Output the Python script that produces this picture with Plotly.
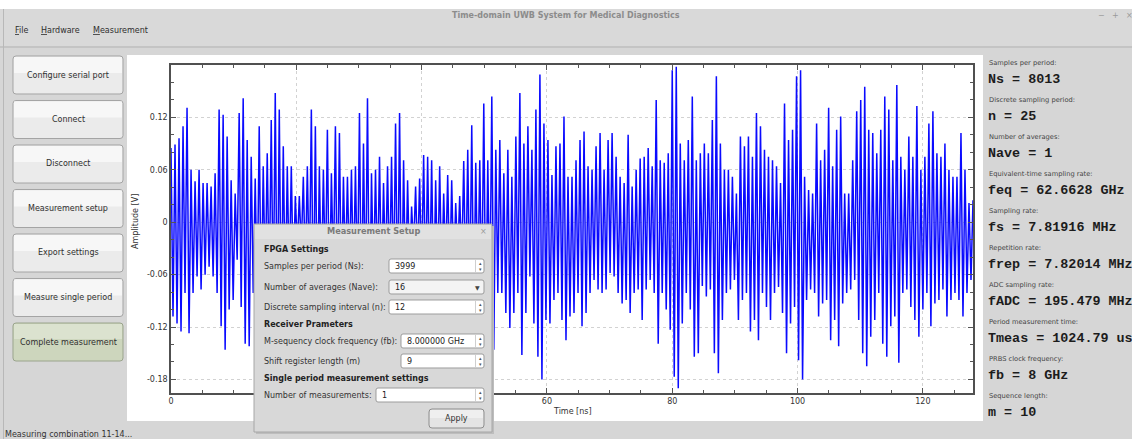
import plotly.graph_objects as go

# ---------------- data ----------------
step_ns = 0.64  # spacing of successive positive peaks [ns]

peak_max = [
    0.085, 0.089, 0.096, 0.110, 0.131, 0.060, 0.047, 0.060, 0.045, 0.045,
    0.041, 0.056, 0.129, 0.123, 0.098, 0.048, 0.033, 0.125, 0.142, 0.094,
    0.075, 0.050, 0.110, 0.064, 0.079, 0.117, 0.148, 0.129, 0.087, 0.064,
    0.064, 0.030, 0.030, 0.052, 0.064, 0.129, 0.110, 0.064, 0.060, 0.106,
    0.056, 0.110, 0.102, 0.052, 0.052, 0.060, 0.064, 0.125, 0.090, 0.142,
    0.056, 0.060, 0.075, 0.045, 0.064, 0.075, 0.113, 0.125, 0.071, 0.048,
    0.018, 0.041, 0.050, 0.077, 0.075, 0.071, 0.048, 0.064, 0.033, 0.054,
    0.048, 0.022, 0.030, 0.070, 0.083, 0.111, 0.068, 0.071, 0.136, 0.071,
    0.144, 0.083, 0.094, 0.056, 0.083, 0.052, 0.098, 0.148, 0.090, 0.110,
    0.083, 0.129, 0.169, 0.113, 0.094, 0.054, 0.087, 0.090, 0.121, 0.052,
    0.052, 0.071, 0.094, 0.104, 0.064, 0.060, 0.087, 0.102, 0.060, 0.094,
    0.102, 0.075, 0.052, 0.045, 0.100, 0.041, 0.060, 0.073, 0.075, 0.085,
    0.064, 0.140, 0.071, 0.068, 0.079, 0.174, 0.178, 0.090, 0.071, 0.094,
    0.144, 0.071, 0.079, 0.090, 0.079, 0.117, 0.167, 0.090, 0.060, 0.060,
    0.052, 0.033, 0.098, 0.087, 0.098, 0.075, 0.125, 0.110, 0.083, 0.075,
    0.071, 0.064, 0.045, 0.136, 0.094, 0.106, 0.167, 0.174, 0.052, 0.037,
    0.033, 0.113, 0.071, 0.083, 0.131, 0.064, 0.106, 0.121, 0.033, 0.033,
    0.071, 0.127, 0.140, 0.155, 0.106, 0.102, 0.079, 0.106, 0.144, 0.129,
    0.071, 0.157, 0.075, 0.060, 0.098, 0.075, 0.133, 0.060, 0.075, 0.113,
    0.127, 0.079, 0.075, 0.090, 0.060, 0.052, 0.052, 0.102, 0.060, 0.022,
    0.025,
]

peak_min = [
    -0.108, -0.116, -0.125, -0.081, -0.127, -0.081, -0.062, -0.077, -0.060, -0.051,
    -0.062, -0.081, -0.119, -0.146, -0.100, -0.089, -0.043, -0.097, -0.139, -0.142,
    -0.081, -0.090, -0.100, -0.070, -0.080, -0.100, -0.130, -0.120, -0.090, -0.070,
    -0.070, -0.030, -0.030, -0.060, -0.070, -0.120, -0.110, -0.080, -0.070, -0.100,
    -0.060, -0.100, -0.090, -0.060, -0.060, -0.070, -0.080, -0.120, -0.100, -0.130,
    -0.070, -0.070, -0.080, -0.060, -0.070, -0.080, -0.100, -0.120, -0.080, -0.060,
    -0.030, -0.050, -0.060, -0.080, -0.080, -0.090, -0.070, -0.070, -0.050, -0.070,
    -0.060, -0.040, -0.050, -0.080, -0.090, -0.110, -0.080, -0.090, -0.120, -0.100,
    -0.146, -0.081, -0.081, -0.104, -0.121, -0.104, -0.081, -0.152, -0.104, -0.062,
    -0.116, -0.154, -0.180, -0.112, -0.116, -0.089, -0.081, -0.112, -0.135, -0.108,
    -0.104, -0.081, -0.119, -0.104, -0.081, -0.066, -0.077, -0.081, -0.077, -0.058,
    -0.062, -0.081, -0.093, -0.089, -0.104, -0.081, -0.077, -0.112, -0.077, -0.066,
    -0.081, -0.139, -0.081, -0.100, -0.123, -0.177, -0.190, -0.116, -0.081, -0.100,
    -0.154, -0.150, -0.073, -0.085, -0.077, -0.150, -0.173, -0.112, -0.081, -0.077,
    -0.066, -0.112, -0.089, -0.081, -0.125, -0.112, -0.135, -0.081, -0.097, -0.112,
    -0.081, -0.074, -0.104, -0.150, -0.116, -0.097, -0.158, -0.180, -0.089, -0.077,
    -0.081, -0.108, -0.093, -0.089, -0.135, -0.112, -0.142, -0.093, -0.081, -0.077,
    -0.066, -0.112, -0.150, -0.165, -0.131, -0.112, -0.081, -0.139, -0.154, -0.119,
    -0.108, -0.161, -0.081, -0.077, -0.097, -0.112, -0.131, -0.100, -0.081, -0.119,
    -0.093, -0.089, -0.077, -0.108, -0.089, -0.081, -0.089, -0.108, -0.081, -0.066,
    -0.062,
]

x_tick_vals = [0, 20, 40, 60, 80, 100, 120]
x_tick_text = ["0", "20", "40", "60", "80", "100", "120"]
y_tick_vals = [0.12, 0.06, 0.0, -0.06, -0.12, -0.18]
y_tick_text = ["0.12", "0.06", "0", "-0.06", "-0.12", "-0.18"]
x_range = [0, 128]
y_range = [-0.1955, 0.18]

window_title = "Time-domain UWB System for Medical Diagnostics"
menu_items = ["<u>F</u>ile", "<u>H</u>ardware", "<u>M</u>easurement"]
buttons = ["Configure serial port", "Connect", "Disconnect", "Measurement setup",
           "Export settings", "Measure single period", "Complete measurement"]
info_labels = ["Samples per period:", "Discrete sampling period:", "Number of averages:",
               "Equivalent-time sampling rate:", "Sampling rate:", "Repetition rate:",
               "ADC sampling rate:", "Period measurement time:", "PRBS clock frequency:",
               "Sequence length:"]
info_values = ["Ns = 8013", "n = 25", "Nave = 1", "feq = 62.6628 GHz", "fs = 7.81916 MHz",
               "frep = 7.82014 MHz", "fADC = 195.479 MHz", "Tmeas = 1024.79 us",
               "fb = 8 GHz", "m = 10"]
status_text = "Measuring combination 11-14..."

# build the waveform (positive peak followed by negative peak)
t_ns, amp = [], []
for k, (hi, lo) in enumerate(zip(peak_max, peak_min)):
    t_ns += [k * step_ns, k * step_ns + step_ns / 2]
    amp += [hi, lo]

# ---------------- layout helpers ----------------
W, H = 1132, 439
PL, PT, PR, PB = 171, 65, 973, 393
PW, PH = PR - PL, PB - PT


def fx(px):
    return (px - PL) / PW


def fy(py):
    return 1 - (py - PT) / PH


FONT = "DejaVu Sans"
shapes, annots = [], []


def rect(x0, y0, x1, y1, fill, line=None, lw=1, layer="above"):
    shapes.append(dict(type="rect", xref="paper", yref="paper",
                       x0=fx(x0), x1=fx(x1), y0=fy(y1), y1=fy(y0),
                       fillcolor=fill, layer=layer,
                       line=dict(color=line or fill, width=lw if line else 0)))


def rrect(x0, y0, x1, y1, r, fill, line=None, lw=1, layer="above"):
    pts = [("M", [(x0 + r, y0)]), ("L", [(x1 - r, y0)]), ("Q", [(x1, y0), (x1, y0 + r)]),
           ("L", [(x1, y1 - r)]), ("Q", [(x1, y1), (x1 - r, y1)]), ("L", [(x0 + r, y1)]),
           ("Q", [(x0, y1), (x0, y1 - r)]), ("L", [(x0, y0 + r)]), ("Q", [(x0, y0), (x0 + r, y0)])]
    path = " ".join(c + " " + " ".join(f"{fx(a):.5f},{fy(b):.5f}" for a, b in p) for c, p in pts) + " Z"
    shapes.append(dict(type="path", xref="paper", yref="paper", path=path,
                       fillcolor=fill, layer=layer,
                       line=dict(color=line or fill, width=lw if line else 0)))


def hline(x0, x1, y, color, w=1):
    shapes.append(dict(type="line", xref="paper", yref="paper", x0=fx(x0), x1=fx(x1),
                       y0=fy(y), y1=fy(y), line=dict(color=color, width=w), layer="above"))


def vline(x, y0, y1, color, w=1):
    shapes.append(dict(type="line", xref="paper", yref="paper", x0=fx(x), x1=fx(x),
                       y0=fy(y0), y1=fy(y1), line=dict(color=color, width=w), layer="above"))


def text(x, y, s, size=8, color="#333333", anchor="left", family=FONT, angle=0):
    annots.append(dict(x=fx(x), y=fy(y), xref="paper", yref="paper", text=s, showarrow=False,
                       xanchor=anchor, yanchor="middle", textangle=angle,
                       font=dict(family=family, size=size, color=color)))


# ---------------- window chrome ----------------
rect(0, 0, W, 9, "#ffffff", layer="below")
rect(0, 9, W, 46, "#d9d9d9", layer="below")
hline(0, W, 47, "#b2b2b2", 1)
vline(3.5, 9, H, "#b8b8b8", 1)
text(566, 15, "<b>" + window_title + "</b>", 8, "#8c8c8c", "center")
text(1101, 15, "−", 8, "#9a9a9a", "center")
text(1115, 15, "+", 8, "#9a9a9a", "center")
text(1129, 15, "×", 8, "#9a9a9a", "center")
for s, x in zip(menu_items, [13, 39, 91]):
    text(x, 30, s, 8, "#2e2e2e")

# white plot panel
rect(127, 55, 983, 421, "#ffffff", layer="below")

# buttons
for i, b in enumerate(buttons):
    y0 = 56 + i * 44.5
    y1 = y0 + 38
    if i == len(buttons) - 1:
        rrect(13, y0, 123, y1, 3, "#cdd6bd", "#9aa48c")
        rect(14, y0 + 1, 122, y0 + 16, "#dbe2cf")
    else:
        rrect(13, y0, 123, y1, 3, "#ebebeb", "#a4a4a4")
        rect(14, y0 + 1, 122, y0 + 17, "#f7f7f7")
    text(68, (y0 + y1) / 2, b, 8, "#303030", "center")

# info panel on the right
for i, (lab, val) in enumerate(zip(info_labels, info_values)):
    text(987, 62.5 + 37 * i, lab, 6.7, "#444444")
    text(986, 79.5 + 37 * i, "<b>" + val + "</b>", 13.4, "#1c1c1c", family="Liberation Mono")

text(3, 435, status_text, 8, "#333333")

# axis titles
text(572, 411, "Time [ns]", 8, "#333333", "center")
text(135, 222, "Amplitude [V]", 8, "#333333", "center", angle=-90)

# ---------------- Measurement Setup dialog ----------------
DX0, DY0, DX1, DY1 = 254, 224, 492, 432
rect(DX0 + 2, DY0 + 2, DX1 + 2, DY1 + 2, "#bdbdbd")
rect(DX0, DY0, DX1, DY1, "#d8d8d8", "#a6a6a6")
rect(DX0 + 1, DY0 + 1, DX1 - 1, DY0 + 15, "#e1e1e1")
text(373, 231, "<b>Measurement Setup</b>", 8.2, "#7a7a7a", "center")
text(483, 231, "×", 8, "#9a9a9a", "center")

dialog_heads = [("FPGA Settings", 249), ("Receiver Prameters", 324),
                ("Single period measurement settings", 378)]
for s, y in dialog_heads:
    text(262, y, "<b>" + s + "</b>", 8, "#222222")

dialog_rows = [("Samples per period (Ns):", "3999", 266, 389, "spin"),
               ("Number of averages (Nave):", "16", 287, 389, "combo"),
               ("Discrete sampling interval (n):", "12", 307, 389, "spin"),
               ("M-sequency clock frequency (fb):", "8.000000 GHz", 341, 401, "spin"),
               ("Shift register length (m)", "9", 361, 401, "spin"),
               ("Number of measurements:", "1", 395, 376, "spin")]
for lab, val, y, bx, kind in dialog_rows:
    text(262, y, lab, 8, "#333333")
    if kind == "combo":
        rrect(bx, y - 7, 484, y + 7, 2, "#f4f4f4", "#9c9c9c")
        text(477, y, "▼", 6, "#444444", "center")
    else:
        rrect(bx, y - 7, 484, y + 7, 2, "#ffffff", "#9c9c9c")
        vline(475.5, y - 6, y + 6, "#cfcfcf")
        text(480, y - 3, "▴", 5, "#555555", "center")
        text(480, y + 3, "▾", 5, "#555555", "center")
    text(bx + 4, y, val, 8, "#222222")

rrect(429, 409, 484, 428, 3, "#e4e4e4", "#8e8e8e")
rect(430, 410, 483, 418, "#efefef")
text(456.5, 418.5, "Apply", 8, "#333333", "center")

# ---------------- figure ----------------
fig = go.Figure(go.Scatter(x=t_ns, y=amp, mode="lines",
                           line=dict(color="#0a0aff", width=1.5),
                           hoverinfo="skip", showlegend=False))

axis_common = dict(ticks="inside", ticklen=5, tickcolor="#555555", tickwidth=1,
                   showline=True, linecolor="#505050", linewidth=1.5, mirror="allticks",
                   showgrid=True, gridcolor="#d2d2d2", griddash="dot", gridwidth=1,
                   zeroline=False, fixedrange=True,
                   tickfont=dict(family=FONT, size=8, color="#333333"))

fig.update_layout(
    width=W, height=H,
    margin=dict(l=PL, r=W - PR, t=PT, b=H - PB, pad=0),
    paper_bgcolor="#d6d6d6", plot_bgcolor="#ffffff",
    xaxis=dict(range=x_range, tickmode="array", tickvals=x_tick_vals, ticktext=x_tick_text,
               minor=dict(tickmode="linear", tick0=0, dtick=5, ticks="inside", ticklen=3,
                          tickcolor="#555555", showgrid=False),
               **axis_common),
    yaxis=dict(range=y_range, tickmode="array", tickvals=y_tick_vals, ticktext=y_tick_text,
               minor=dict(tickmode="linear", tick0=0, dtick=0.02, ticks="inside", ticklen=3,
                          tickcolor="#555555", showgrid=False),
               **axis_common),
    shapes=shapes, annotations=annots, showlegend=False,
)

fig.write_html("out.html", config=dict(displayModeBar=False))
